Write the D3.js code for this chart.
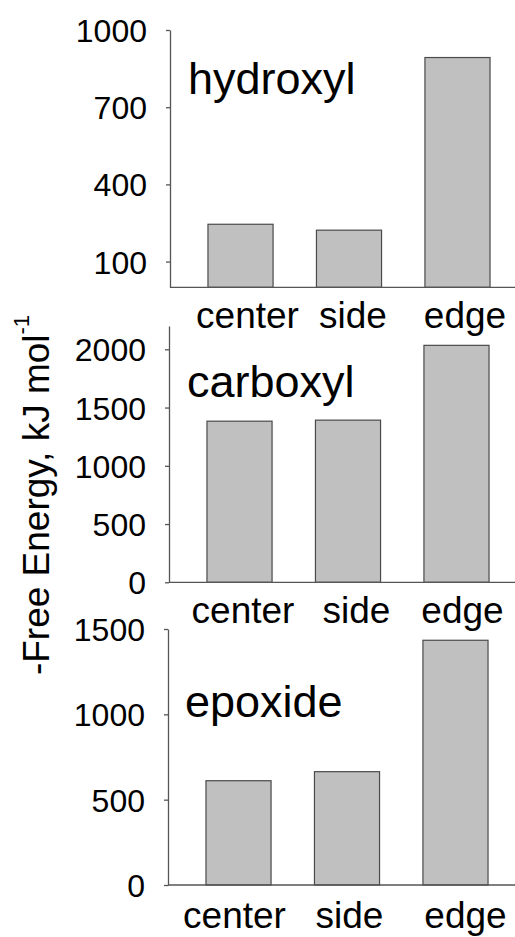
<!DOCTYPE html>
<html>
<head>
<meta charset="utf-8">
<script src="https://cdn.jsdelivr.net/npm/d3@7"></script>
<style>
  html, body { margin: 0; padding: 0; background: #fff; }
  svg { display: block; }
  text { font-family: "Liberation Sans", Arial, Helvetica, sans-serif; fill: #000; }
</style>
</head>
<body>
<svg id="chart" width="515" height="937"></svg>
<script>
// ---- data ----
const categories = ["center", "side", "edge"];
const panelNames = ["hydroxyl", "carboxyl", "epoxide"];
const hydroxylValues = [245, 222, 893];
const carboxylValues = [1383, 1392, 2034];
const epoxideValues = [611, 664, 1434];
const hydroxylTicks = [100, 400, 700, 1000];
const carboxylTicks = [0, 500, 1000, 1500, 2000];
const epoxideTicks = [0, 500, 1000, 1500];
const hydroxylDomain = [0, 1000];
const carboxylDomain = [0, 2200];
const epoxideDomain = [0, 1500];
const yTitle = "-Free Energy, kJ mol";
const yTitleSup = "-1";

// ---- layout ----
const W = 515;
const panels = [
  { name: panelNames[0], values: hydroxylValues, ticks: hydroxylTicks, domain: hydroxylDomain,
    x0: 170, top: 30, bottom: 287.3, labelX: 188, labelY: 94, catY: 328, catDx: [7, 4, 7.5] },
  { name: panelNames[1], values: carboxylValues, ticks: carboxylTicks, domain: carboxylDomain,
    x0: 169, top: 326, bottom: 582.3, labelX: 187, labelY: 397, catY: 623, catDx: [3.5, 8.5, 6] },
  { name: panelNames[2], values: epoxideValues, ticks: epoxideTicks, domain: epoxideDomain,
    x0: 168, top: 629, bottom: 885, labelX: 185, labelY: 717, catY: 928, catDx: [-4, 2.5, 10] }
];

const svg = d3.select("#chart");
const axisColor = "#555";

panels.forEach(p => {
  const g = svg.append("g");
  const x = d3.scaleBand().domain(categories)
    .range([p.x0, p.x0 + 358]).paddingInner(0.4).paddingOuter(0.35);
  const y = d3.scaleLinear().domain(p.domain).range([p.bottom, p.top]);

  // bars
  g.selectAll("rect.bar").data(categories).join("rect")
    .attr("class", "bar")
    .attr("x", d => x(d))
    .attr("width", x.bandwidth())
    .attr("y", (d, i) => y(p.values[i]))
    .attr("height", (d, i) => y(p.domain[0]) - y(p.values[i]))
    .attr("fill", "#c0c0c0")
    .attr("stroke", "#4a4a4a")
    .attr("stroke-width", 1.2);

  // x baseline
  g.append("line")
    .attr("x1", p.x0).attr("x2", W)
    .attr("y1", y(p.domain[0])).attr("y2", y(p.domain[0]))
    .attr("stroke", axisColor).attr("stroke-width", 1.3);

  // y axis
  const ya = g.append("g").attr("transform", `translate(${p.x0},0)`)
    .call(d3.axisLeft(y).tickValues(p.ticks).tickSize(4).tickSizeOuter(0).tickPadding(19).tickFormat(d3.format("d")));
  ya.select(".domain").attr("stroke", axisColor).attr("stroke-width", 1.3);
  ya.selectAll(".tick line").attr("stroke", axisColor).attr("stroke-width", 1.3);
  ya.selectAll(".tick text")
    .attr("font-size", 32).attr("fill", "#000")
    .attr("dy", "0.36em")
    .style("font-family", "'Liberation Sans', Arial, sans-serif");

  // category labels
  g.selectAll("text.cat").data(categories).join("text")
    .attr("class", "cat")
    .attr("x", (d, i) => x(d) + x.bandwidth() / 2 + p.catDx[i])
    .attr("y", p.catY)
    .attr("text-anchor", "middle")
    .attr("font-size", 37)
    .text(d => d);

  // panel label
  g.append("text")
    .attr("x", p.labelX).attr("y", p.labelY)
    .attr("font-size", 45)
    .text(p.name);
});

// y title
const t = svg.append("text")
  .attr("transform", "translate(49,495) rotate(-90)")
  .attr("text-anchor", "middle")
  .attr("font-size", 37);
t.append("tspan").text(yTitle);
t.append("tspan").attr("font-size", 22).attr("dy", "-0.9em").text(yTitleSup);
</script>
</body>
</html>
